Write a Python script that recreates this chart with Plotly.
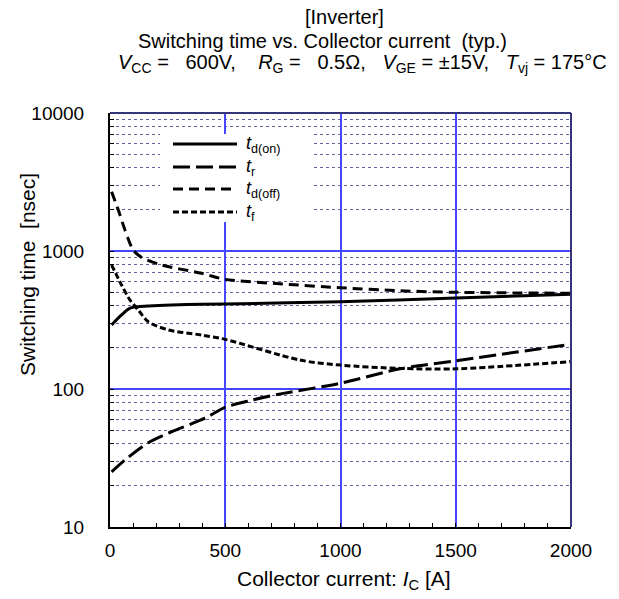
import plotly.graph_objects as go

# ---- data ----
I_on = [7, 50, 87, 123, 170, 268, 398, 500, 1000, 1500, 2000]
td_on = [291, 344, 385, 395, 400, 406, 411, 413, 429, 457, 486]

I_r = [7, 65, 166, 267, 412, 499, 615, 752, 1000, 1258, 1500, 2000]
t_r = [25.1, 30.6, 40.8, 49, 61.4, 73.6, 83, 93, 110, 140, 160, 211]

I_off = [7, 36, 65, 101, 137, 224, 398, 499, 750, 998, 1258, 1500, 2000]
td_off = [2692, 1983, 1420, 1016, 899, 792, 689, 623, 577, 542, 515, 502, 494]

I_f = [7, 50, 87, 123, 166, 253, 398, 499, 824, 998, 1258, 1500, 2000]
t_f = [792, 568, 441, 373, 307, 268, 246, 229, 162, 149, 141, 140, 158]

x_ticks = [0, 500, 1000, 1500, 2000]
y_ticks = [10, 100, 1000, 10000]

names = ["<i>t</i><sub>d(on)</sub>", "<i>t</i><sub>r</sub>",
         "<i>t</i><sub>d(off)</sub>", "<i>t</i><sub>f</sub>"]
dashes = ["solid", "17px,6px", "10px,6px", "6px,3px"]

FONT = "Liberation Sans, Arial, sans-serif"
BLUE = "#4646ff"
MINOR = "rgba(60,60,130,0.8)"
NAVY = "#35357a"

L, R, T, B = 110, 48, 113, 72
PW, PH = 619 - L - R, 599 - T - B


def px(x):
    return (x - L) / PW


def py(y):
    return 1 - (y - T) / PH


fig = go.Figure()
series = [(I_on, td_on), (I_r, t_r), (I_off, td_off), (I_f, t_f)]
for (xs, ys), nm, ds in zip(series, names, dashes):
    fig.add_trace(go.Scatter(x=xs, y=ys, mode="lines", name=nm,
                             line=dict(color="black", width=3, dash=ds,
                                       shape="spline", smoothing=0.8),
                             showlegend=False))

# manual legend (box + sample lines + labels)
fig.add_shape(type="rect", xref="paper", yref="paper",
              x0=px(160), x1=px(313), y0=py(222), y1=py(134),
              fillcolor="white", line=dict(width=0), layer="above")
rows = [144, 167, 189, 212]
for r, nm, ds in zip(rows, names, dashes):
    fig.add_shape(type="line", xref="paper", yref="paper",
                  x0=px(173), x1=px(237), y0=py(r), y1=py(r),
                  line=dict(color="black", width=3, dash=ds), layer="above")
    fig.add_annotation(xref="paper", yref="paper", x=px(244), y=py(r),
                       xanchor="left", yanchor="middle", text=nm, showarrow=False,
                       font=dict(family=FONT, size=18, color="black"))

# frame top/right in navy
fig.add_shape(type="line", xref="paper", yref="paper", x0=0, x1=1, y0=1, y1=1,
              line=dict(color=NAVY, width=2), layer="above")
fig.add_shape(type="line", xref="paper", yref="paper", x0=1, x1=1, y0=0, y1=1,
              line=dict(color=NAVY, width=2), layer="above")

# titles
sp = "\u00a0"
titles = [
    ("[Inverter]", 344, 17),
    ("Switching time vs. Collector current" + sp * 2 + "(typ.)", 322, 41),
    ("<i>V</i><sub>CC</sub> =" + sp * 3 + "600V," + sp * 4 + "<i>R</i><sub>G</sub> =" + sp * 3
     + "0.5Ω," + sp * 3 + "<i>V</i><sub>GE</sub> = ±15V," + sp * 3 + "<i>T</i><sub>vj</sub> = 175°C", 362, 64),
]
for txt, xc, yc in titles:
    fig.add_annotation(xref="paper", yref="paper", x=px(xc), y=py(yc),
                       xanchor="center", yanchor="middle",
                       text=txt, showarrow=False,
                       font=dict(family=FONT, size=20, color="black"))

# axis titles
fig.add_annotation(xref="paper", yref="paper", x=px(344), y=py(580),
                   xanchor="center", yanchor="middle", showarrow=False,
                   text="Collector current: <i>I</i><sub>C</sub> [A]",
                   font=dict(family=FONT, size=21, color="black"))
fig.add_annotation(xref="paper", yref="paper", x=px(27), y=py(275),
                   xanchor="center", yanchor="middle", showarrow=False, textangle=-90,
                   text="Switching time" + sp * 2 + "[nsec]",
                   font=dict(family=FONT, size=21, color="black"))

fig.update_layout(
    width=619, height=599,
    margin=dict(l=L, r=R, t=T, b=B),
    paper_bgcolor="white", plot_bgcolor="white",
    font=dict(family=FONT, size=19, color="black"),
    showlegend=False,
)
fig.update_xaxes(
    range=[0, 2000], tickvals=x_ticks, ticktext=[str(v) for v in x_ticks],
    showgrid=True, gridcolor=BLUE, gridwidth=1.5,
    showline=True, linecolor="black", linewidth=2,
    ticks="inside", ticklen=0, zeroline=False,
    tickfont=dict(size=19), ticklabelstandoff=5,
    minor=dict(dtick=100, ticks="inside", ticklen=4, tickcolor="black", showgrid=False),
)
fig.update_yaxes(
    type="log", range=[1, 4], tickvals=y_ticks, ticktext=[str(v) for v in y_ticks],
    showgrid=True, gridcolor=BLUE, gridwidth=1.5,
    showline=True, linecolor="black", linewidth=2,
    ticks="inside", ticklen=4, tickcolor="black", zeroline=False,
    tickfont=dict(size=19), ticklabelstandoff=20,
    minor=dict(tickvals=[m * 10 ** e for e in (1, 2, 3) for m in range(2, 10)],
               showgrid=True, gridcolor=MINOR, griddash="dot", gridwidth=1,
               ticks="inside", ticklen=4, tickcolor="black"),
)

fig.write_html("out.html")
